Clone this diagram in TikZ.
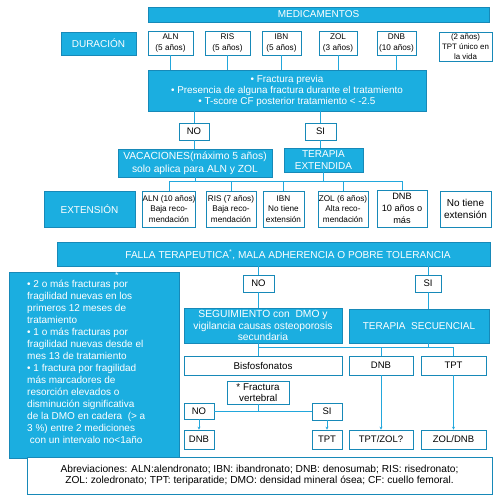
\documentclass[tikz,border=0pt]{standalone}
\usepackage{fontspec}
\setmainfont{Liberation Sans}
\usetikzlibrary{arrows.meta}
\definecolor{bfill}{HTML}{1BAEE0}
\definecolor{bdraw}{HTML}{1789B8}
\definecolor{lcol}{HTML}{22A7DC}
\newcommand\fsz[2]{\fontsize{#1}{#2}\selectfont}
\begin{document}
\begin{tikzpicture}[x=1pt,y=-1pt,
  bbox/.style={draw=bdraw, fill=bfill, text=white, inner sep=0pt, line width=0.6pt, align=center},
  wbox/.style={draw=bdraw, fill=white, text=black, inner sep=0pt, line width=0.6pt, align=center},
  conn/.style={draw=lcol, line width=1pt},
  arr/.style={draw=lcol, line width=0.6pt, -{Stealth[length=3pt,width=3pt]}}]
\fill[white] (0,0) rectangle (499,499);
\useasboundingbox (0,0) rectangle (499,499);
% top row
\node[bbox, minimum width=341pt, minimum height=15pt, font=\fsz{10}{12}] (med) at (318.5,14.5) {MEDICAMENTOS};
\node[bbox, minimum width=75pt, minimum height=23pt, font=\fsz{10}{12}] (dur) at (98.5,43.5) {DURACIÓN};
\node[wbox, minimum width=45pt, minimum height=24pt, font=\fsz{8.2}{11}] (aln5) at (170.5,43) {ALN\\(5 años)};
\node[wbox, minimum width=45pt, minimum height=24pt, font=\fsz{8.2}{11}] (ris5) at (227.5,43) {RIS\\(5 años)};
\node[wbox, minimum width=39pt, minimum height=24pt, font=\fsz{8.2}{11}] (ibn5) at (281.5,43) {IBN\\(5 años)};
\node[wbox, minimum width=38pt, minimum height=24pt, font=\fsz{8.2}{11}] (zol3) at (338,43) {ZOL\\(3 años)};
\node[wbox, minimum width=39pt, minimum height=24pt, font=\fsz{8.2}{11}] (dnb10) at (396.5,43) {DNB\\(10 años)};
\node[wbox, minimum width=53pt, minimum height=29pt, font=\fsz{7.9}{10}] (tpt2) at (465.5,46.5) {(2 años)\\TPT único en\\la vida};
% criteria
\node[bbox, minimum width=278pt, minimum height=41pt, font=\fsz{9.9}{11}] (crit) at (287,90.5) {• Fractura previa\\• Presencia de alguna fractura durante el tratamiento\\• T-score CF posterior tratamiento < -2.5};
\foreach \n in {aln5,ris5,ibn5,zol3,dnb10} \draw[conn] (\n.south) -- (\n.south |- crit.north);
\node[wbox, minimum width=30pt, minimum height=17pt, font=\fsz{9.5}{11}] (no1) at (194,131.5) {NO};
\node[wbox, minimum width=31pt, minimum height=17pt, font=\fsz{9.5}{11}] (si1) at (320.5,131.5) {SI};
\draw[conn] (no1.north |- crit.south) -- (no1.north);
\draw[conn] (si1.north |- crit.south) -- (si1.north);
\node[bbox, minimum width=154pt, minimum height=28pt, font=\fsz{10.3}{13}] (vac) at (195,163) {VACACIONES(máximo 5 años)\\solo aplica para ALN y ZOL};
\node[bbox, minimum width=79pt, minimum height=24pt, font=\fsz{10}{12.5}] (terext) at (323.5,160) {TERAPIA\\EXTENDIDA};
\draw[conn] (no1.south) -- (no1.south |- vac.north);
\draw[conn] (si1.south) -- (si1.south |- terext.north);
% extension row
\node[bbox, minimum width=91pt, minimum height=36pt, font=\fsz{10}{12}] (ext) at (89.5,209) {EXTENSIÓN};
\node[wbox, minimum width=50pt, minimum height=36pt, font=\fsz{8.2}{10.5}] (aln10) at (169,209) {ALN (10 años)\\Baja reco-\\mendación};
\node[wbox, minimum width=50pt, minimum height=36pt, font=\fsz{8.2}{10.5}] (ris7) at (231,209) {RIS (7 años)\\Baja reco-\\mendación};
\node[wbox, minimum width=41pt, minimum height=36pt, font=\fsz{8.2}{10.5}] (ibnx) at (283.5,209) {IBN\\No tiene\\extensión};
\node[wbox, minimum width=50pt, minimum height=36pt, font=\fsz{8.2}{10.5}] (zol6) at (343,209) {ZOL (6 años)\\Alta reco-\\mendación};
\node[wbox, minimum width=50pt, minimum height=37pt, font=\fsz{9.2}{12}] (dnbx) at (402,208.5) {DNB\\10 años o\\más};
\node[wbox, minimum width=51pt, minimum height=36pt, font=\fsz{10}{12.5}] (notx) at (465.5,209) {No tiene\\extensión};
\coordinate (b1) at (0,181);
\draw[conn] (aln10.north |- b1) -- (dnbx.north |- b1);
\foreach \n in {aln10,ris7,ibnx,zol6,dnbx} \draw[conn] (\n.north) -- (\n.north |- b1);
\draw[conn] (vac.south) -- (vac.south |- b1);
\draw[conn] (terext.south) -- (terext.south |- b1);
% falla
\node[bbox, minimum width=433pt, minimum height=24pt] (falla) at (273.5,254) {};
\node[text=white, inner sep=0pt, font=\fsz{10.1}{11}] (fallat) at (288,255) {FALLA TERAPEUTICA\textsuperscript{*}, MALA ADHERENCIA O POBRE TOLERANCIA};
\node[wbox, minimum width=31pt, minimum height=17pt, font=\fsz{9.5}{11}] (no2) at (258.5,283.5) {NO};
\node[wbox, minimum width=26pt, minimum height=17pt, font=\fsz{9.5}{11}] (si2) at (428,283.5) {SI};
\draw[conn] (no2.north |- falla.south) -- (no2.north);
\draw[conn] (si2.north |- falla.south) -- (si2.north);
\node[bbox, minimum width=158pt, minimum height=35pt, font=\fsz{10.3}{11.8}] (seg) at (263,325.5) {SEGUIMIENTO con\ \ DMO y\\vigilancia causas osteoporosis\\secundaria};
\node[bbox, minimum width=140pt, minimum height=34pt, font=\fsz{10}{12}] (tersec) at (419,326) {TERAPIA\ \ SECUENCIAL};
\draw[conn] (no2.south) -- (no2.south |- seg.north);
\draw[conn] (si2.south) -- (si2.south |- tersec.north);
% second level
\node[wbox, minimum width=158pt, minimum height=19pt, font=\fsz{9.8}{11}] (bisf) at (263,365.5) {Bisfosfonatos};
\node[wbox, minimum width=64pt, minimum height=19pt, font=\fsz{9.5}{11}] (dnbA) at (381,365.5) {DNB};
\node[wbox, minimum width=65pt, minimum height=19pt, font=\fsz{9.5}{11}] (tptA) at (453.5,365.5) {TPT};
\coordinate (b2) at (0,347);
\draw[conn] (seg.south -| no2.south) -- (bisf.north -| no2.south);
\draw[conn] (b2 -| no2.south) -- (b2 -| tptA.north);
\draw[conn] (tersec.south -| si2.south) -- (b2 -| si2.south);
\draw[conn] (b2 -| dnbA.north) -- (dnbA.north);
\draw[conn] (b2 -| tptA.north) -- (tptA.north);
\node[wbox, minimum width=62pt, minimum height=23pt, font=\fsz{9.8}{11.5}, align=left] (frac) at (258,392.5) {* Fractura\\\ vertebral};
\node[wbox, minimum width=30pt, minimum height=16pt, font=\fsz{9.5}{11}] (no3) at (199,411) {NO};
\node[wbox, minimum width=30pt, minimum height=17pt, font=\fsz{9.5}{11}] (si3) at (327,411.5) {SI};
\draw[conn] (frac.south) -- (frac.south |- no3.east);
\draw[conn] (no3.east) -- (no3.east -| si3.west);
\node[wbox, minimum width=30pt, minimum height=19pt, font=\fsz{9.5}{11}] (dnbB) at (199,439.5) {DNB};
\node[wbox, minimum width=30pt, minimum height=19pt, font=\fsz{9.5}{11}] (tptB) at (327,439.5) {TPT};
\node[wbox, minimum width=64pt, minimum height=19pt, font=\fsz{9.5}{11}] (tptzol) at (381,439.5) {TPT/ZOL?};
\node[wbox, minimum width=65pt, minimum height=19pt, font=\fsz{9.5}{11}] (zoldnb) at (453.5,439.5) {ZOL/DNB};
\draw[arr] (no3.south) -- (dnbB.north);
\draw[arr] (si3.south) -- (tptB.north);
\draw[arr] (dnbA.south) -- (tptzol.north);
\draw[arr] (tptA.south) -- (zoldnb.north);
% left box
\node[bbox, minimum width=170pt, minimum height=186pt] (fail) at (94,365) {};
\node[text=white, inner sep=0pt, font=\fsz{9}{9}] (star) at (117,275) {*};
\node[anchor=north west, text=white, align=left, inner sep=0pt, font=\fsz{10}{12}] (failt) at (27,280)
 {• 2 o más fracturas por\\fragilidad nuevas en los\\primeros 12 meses de\\tratamiento\\• 1 o más fracturas por\\fragilidad nuevas desde el\\mes 13 de tratamiento\\• 1 fractura por fragilidad\\más marcadores de\\resorción elevados o\\disminución significativa\\de la DMO en cadera\ \ (> a\\3 \%) entre 2 mediciones\\\ con un intervalo no<1año};
% abbreviations
\node[wbox, minimum width=465pt, minimum height=37pt, font=\fsz{10.2}{11.5}] (abbr) at (259.5,475.5) {Abreviaciones: ALN:alendronato; IBN: ibandronato; DNB: denosumab; RIS: risedronato;\\ZOL: zoledronato; TPT: teriparatide; DMO: densidad mineral ósea; CF: cuello femoral.};
\end{tikzpicture}
\end{document}
